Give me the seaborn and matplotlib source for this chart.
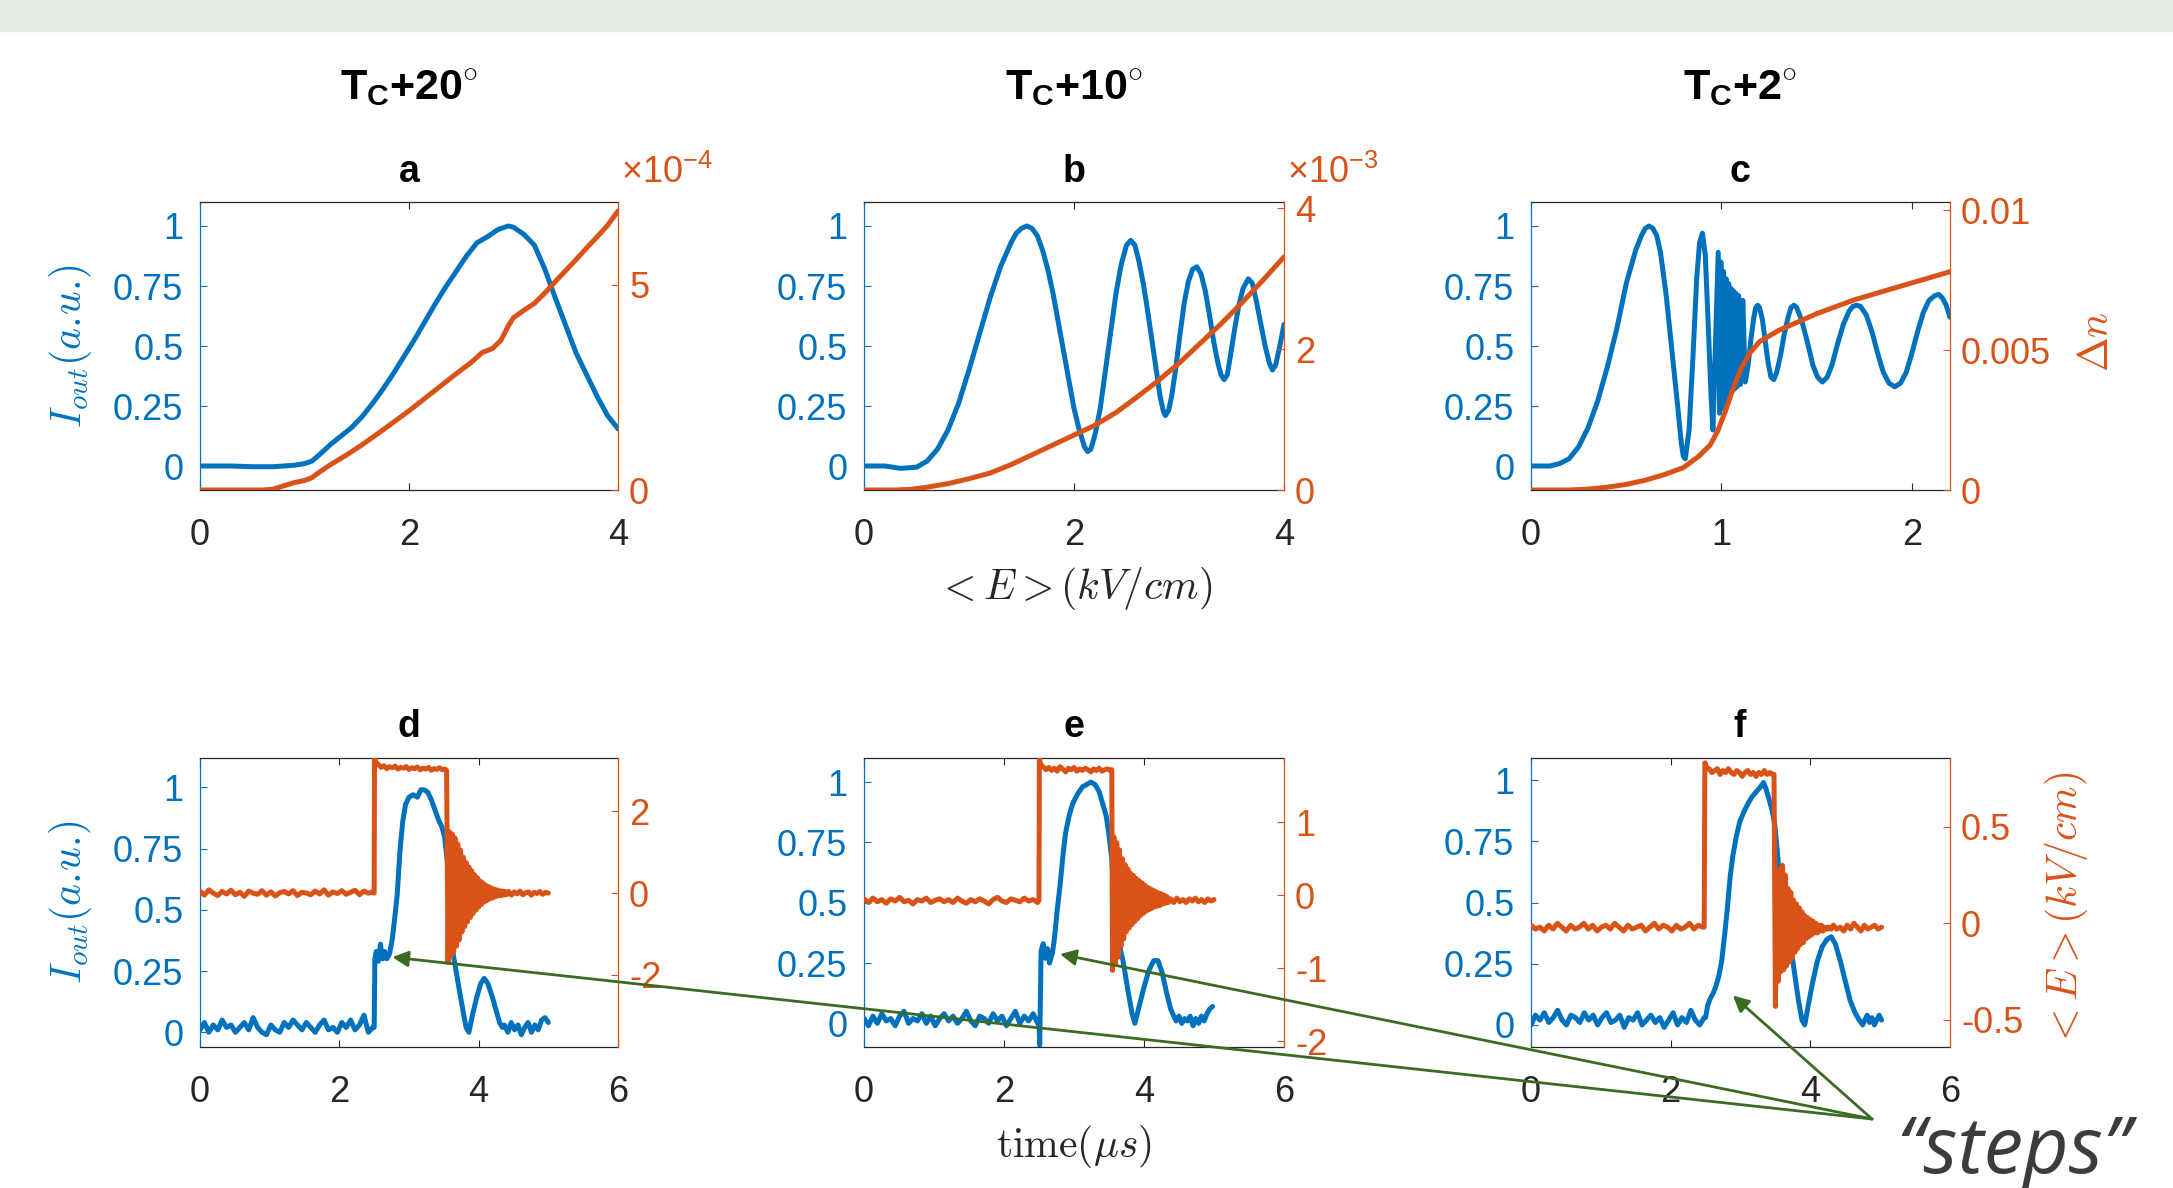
import numpy as np
import matplotlib
matplotlib.use('Agg')
import matplotlib.pyplot as plt
import seaborn as sns
from matplotlib.patches import Rectangle, ConnectionPatch

sns.set_style('ticks')
plt.rcParams['font.family'] = ['Liberation Sans', 'DejaVu Sans']
plt.rcParams['mathtext.fontset'] = 'custom'
plt.rcParams['mathtext.rm'] = 'Liberation Sans'
plt.rcParams['mathtext.it'] = 'Liberation Sans:italic'
plt.rcParams['mathtext.bf'] = 'Liberation Sans:bold'

BLUE = '#0072BD'
ORANGE = '#D95319'
DARK = '#262626'
GREEN = '#3b6b22'

# ---------------- data: top row (vs <E>, kV/cm) ----------------
a_E = [0, 0.3, 0.5, 0.7, 0.9, 1.0, 1.07, 1.15, 1.25, 1.35, 1.45, 1.55, 1.65, 1.75, 1.85, 1.95,
       2.05, 2.15, 2.25, 2.35, 2.45, 2.55, 2.65, 2.75, 2.85, 2.95, 3.0, 3.1, 3.2, 3.3, 3.4, 3.5,
       3.6, 3.7, 3.8, 3.9, 4.0]
a_I = [0.0, 0.0, -0.003, -0.003, 0.003, 0.01, 0.02, 0.05, 0.09, 0.125, 0.16, 0.205, 0.26, 0.32,
       0.385, 0.455, 0.525, 0.6, 0.675, 0.745, 0.81, 0.875, 0.93, 0.955, 0.985, 1.0, 0.995, 0.965,
       0.92, 0.82, 0.7, 0.585, 0.47, 0.38, 0.29, 0.21, 0.155]
a_dnE = [0, 0.6, 0.7, 0.8, 0.9, 1.0, 1.07, 1.15, 1.25, 1.4, 1.55, 1.7, 1.85, 2.0, 2.15, 2.3, 2.45,
         2.6, 2.7, 2.8, 2.88, 2.95, 3.0, 3.1, 3.2, 3.3, 3.4, 3.5, 3.6, 3.7, 3.8, 3.9, 4.0]
a_dn_e4 = [0, 0, 0.02, 0.1, 0.18, 0.23, 0.3, 0.45, 0.62, 0.85, 1.1, 1.37, 1.65, 1.93, 2.23, 2.53,
           2.83, 3.12, 3.35, 3.45, 3.65, 4.0, 4.2, 4.38, 4.55, 4.8, 5.08, 5.35, 5.62, 5.9, 6.17,
           6.45, 6.8]

b_E = [0, 0.2, 0.35, 0.5, 0.6, 0.7, 0.8, 0.9, 1.0, 1.1, 1.2, 1.3, 1.4, 1.45, 1.5, 1.55,
       1.6, 1.65, 1.7, 1.75, 1.8, 1.85, 1.9, 1.95, 2.0, 2.05, 2.1, 2.13, 2.16,
       2.2, 2.25, 2.3, 2.35, 2.4, 2.45, 2.5, 2.54, 2.58, 2.62,
       2.66, 2.7, 2.74, 2.78, 2.82, 2.85, 2.87, 2.9,
       2.93, 2.97, 3.01, 3.05, 3.09, 3.13, 3.17, 3.21,
       3.25, 3.29, 3.33, 3.37, 3.4, 3.43, 3.46,
       3.49, 3.53, 3.57, 3.61, 3.66, 3.7,
       3.74, 3.78, 3.82, 3.86, 3.89, 3.92, 3.96, 4.0]
b_I = [0.0, 0.0, -0.01, -0.005, 0.02, 0.07, 0.15, 0.26, 0.4, 0.55, 0.7, 0.83, 0.93, 0.97, 0.99, 1.0,
       0.99, 0.96, 0.9, 0.82, 0.72, 0.6, 0.48, 0.36, 0.24, 0.15, 0.08, 0.06, 0.07,
       0.13, 0.24, 0.4, 0.56, 0.72, 0.84, 0.92, 0.94, 0.92, 0.85,
       0.76, 0.65, 0.53, 0.41, 0.29, 0.23, 0.21, 0.23,
       0.29, 0.41, 0.55, 0.68, 0.77, 0.82, 0.83, 0.8,
       0.73, 0.63, 0.52, 0.43, 0.38, 0.36, 0.38,
       0.46, 0.57, 0.67, 0.74, 0.78, 0.76,
       0.68, 0.59, 0.5, 0.43, 0.40, 0.42, 0.5, 0.59]
b_dnE = [0, 0.3, 0.45, 0.6, 0.8, 1.0, 1.2, 1.4, 1.6, 1.8, 2.0, 2.2, 2.4, 2.6, 2.8, 3.0, 3.2, 3.4,
         3.6, 3.8, 4.0]
b_dn_e3 = [0, 0, 0.01, 0.04, 0.09, 0.16, 0.24, 0.36, 0.5, 0.64, 0.78, 0.92, 1.1, 1.32, 1.55, 1.8,
           2.08, 2.36, 2.66, 2.98, 3.31]

c_E = [0, 0.1, 0.15, 0.2, 0.25, 0.3, 0.35, 0.4, 0.45, 0.5, 0.55, 0.58, 0.6, 0.62, 0.64, 0.66,
       0.68, 0.71, 0.74, 0.77, 0.79, 0.8, 0.81, 0.83, 0.85, 0.87, 0.885, 0.9, 0.915, 0.93, 0.945,
       0.955,
       0.983, 0.99, 0.997, 1.004, 1.011, 1.018, 1.025, 1.031, 1.038, 1.044, 1.05, 1.056, 1.062,
       1.068, 1.075, 1.082, 1.09, 1.1, 1.112, 1.125,
       1.14, 1.155, 1.17, 1.18, 1.19, 1.2, 1.215, 1.23, 1.245, 1.26, 1.275, 1.29, 1.31, 1.33,
       1.35, 1.365, 1.38, 1.395, 1.42, 1.45, 1.48, 1.505, 1.53, 1.555, 1.58, 1.61, 1.64, 1.67,
       1.69, 1.71, 1.73, 1.76, 1.79, 1.82, 1.85, 1.88, 1.91, 1.94, 1.97, 2.0, 2.03, 2.06, 2.09,
       2.12, 2.14, 2.16, 2.18, 2.2]
c_I = [0.0, 0.0, 0.01, 0.03, 0.08, 0.16, 0.27, 0.41, 0.57, 0.76, 0.9, 0.96, 0.99, 1.0, 0.99, 0.96,
       0.89, 0.71, 0.48, 0.25, 0.09, 0.04, 0.03, 0.15, 0.45, 0.78, 0.93, 0.97, 0.88, 0.6, 0.3,
       0.15,
       0.89, 0.22, 0.85, 0.24, 0.81, 0.26, 0.78, 0.28, 0.76, 0.30, 0.74, 0.31, 0.73,
       0.32, 0.72, 0.33, 0.71, 0.34, 0.69, 0.35,
       0.42, 0.53, 0.62, 0.66, 0.67, 0.66, 0.61, 0.52, 0.43, 0.37, 0.36, 0.39, 0.46, 0.55,
       0.62, 0.66, 0.67, 0.66, 0.61, 0.52, 0.42, 0.37, 0.35, 0.37, 0.42, 0.51, 0.59, 0.645,
       0.665, 0.67, 0.665, 0.63, 0.56, 0.47, 0.39, 0.345, 0.33, 0.345, 0.39, 0.47, 0.56, 0.64,
       0.69, 0.71, 0.715, 0.7, 0.67, 0.62]
c_dnE = [0, 0.2, 0.3, 0.4, 0.5, 0.6, 0.7, 0.8, 0.88, 0.94, 0.98, 1.02, 1.06, 1.1, 1.15, 1.2, 1.3,
         1.4, 1.5, 1.6, 1.7, 1.8, 1.9, 2.0, 2.1, 2.2]
c_dn = [0, 0, 0.00003, 0.0001, 0.0002, 0.00035, 0.00055, 0.0008, 0.0012, 0.0016, 0.0021, 0.0028,
        0.0036, 0.0043, 0.0049, 0.0053, 0.0057, 0.006, 0.0063, 0.00655, 0.0068, 0.007, 0.0072,
        0.0074, 0.0076, 0.0078]

# ---------------- data: bottom row (vs time, us) ----------------
# panel d
d_I_base = [0.01, 0.04, 0.0, 0.03, 0.01, 0.05, 0.02, 0.03, 0.0, 0.02, 0.04, 0.01, 0.06, 0.02, 0.0,
            -0.01, 0.03, 0.01, 0.0, 0.04, 0.02, 0.05, 0.03, 0.01, 0.04, 0.02, 0.0, 0.03, 0.05, 0.01,
            0.02, 0.0, 0.04, 0.02, 0.05, 0.01, 0.03, 0.07, 0.0, 0.02]
d_I_shape_t = [2.5, 2.51, 2.53, 2.56, 2.59, 2.62, 2.65, 2.68, 2.72, 2.76, 2.8, 2.83, 2.87, 2.91,
               2.95, 3.0, 3.06, 3.12, 3.17, 3.22, 3.27, 3.32, 3.37, 3.42, 3.47, 3.51, 3.55, 3.58,
               3.61, 3.67, 3.73, 3.78, 3.82, 3.86, 3.91, 3.97, 4.03, 4.08, 4.13, 4.19, 4.25, 4.3, 4.34]
d_I_shape = [0.02, 0.3, 0.33, 0.29, 0.36, 0.3, 0.33, 0.3, 0.32, 0.38, 0.48, 0.56, 0.74, 0.86, 0.93,
             0.96, 0.97, 0.96, 0.99, 0.99, 0.98, 0.95, 0.91, 0.87, 0.84, 0.8, 0.7, 0.48, 0.36, 0.26,
             0.16, 0.08, 0.02, 0.0, 0.07, 0.14, 0.2, 0.22, 0.2, 0.15, 0.09, 0.04, 0.02]
d_I_tail = [0.03, 0.0, 0.04, 0.01, 0.03, -0.01, 0.02, 0.04, 0.0, 0.03, 0.01, 0.05, 0.06, 0.04]
d_E_base = [0.05, -0.05, 0.08, 0.0, -0.06, 0.04, -0.02, 0.07, -0.04, 0.02, -0.08, 0.05, 0.0, -0.03,
            0.06, -0.05, 0.03, -0.07, 0.01, 0.04, -0.02, 0.06, -0.06, 0.02, 0.0, -0.04, 0.05, -0.02,
            0.08, -0.05, 0.03, -0.01, 0.06, -0.03, 0.02, 0.07, -0.04, 0.05, 0.0, 0.03]
d_E_edge_t = [2.5, 2.505, 2.53]
d_E_edge = [0.0, 3.3, 3.2]
d_E_plat = [3.15, 3.08, 3.12, 3.05, 3.1, 3.07, 3.11, 3.04, 3.08, 3.06, 3.1, 3.03, 3.07, 3.05, 3.09,
            3.02, 3.06, 3.04, 3.08, 3.01, 3.05, 3.03, 3.07, 3.02, 3.04]
d_E_ring = [-1.7, 1.5, -1.55, 1.45, -1.45, 1.35, -1.3, 1.2, -1.15, 1.05, -0.95, 0.88, -0.82, 0.75,
            -0.7, 0.64, -0.6, 0.55, -0.5, 0.45, -0.42, 0.38, -0.34, 0.3, -0.28, 0.25, -0.22, 0.2,
            -0.18, 0.16, -0.14, 0.13, -0.12, 0.1, -0.09, 0.08, -0.07, 0.06, -0.06, 0.05, -0.05,
            0.04, -0.04]
d_E_tail = [0.04, -0.05, 0.03, -0.02, 0.05, -0.04, 0.01, 0.03, -0.05, 0.02, -0.01, 0.04, -0.03,
            0.02, 0.0]

# panel e
e_I_base = [0.02, -0.01, 0.03, 0.0, 0.04, 0.01, 0.02, -0.01, 0.03, 0.05, 0.0, 0.02, 0.01, 0.04, 0.0,
            0.03, -0.01, 0.02, 0.04, 0.01, 0.03, 0.0, 0.02, 0.05, 0.01, -0.01, 0.03, 0.02, 0.0, 0.04,
            0.01, 0.03, -0.01, 0.02, 0.05, 0.0, 0.03, 0.01, 0.04, 0.0]
e_I_shape_t = [2.5, 2.51, 2.52, 2.53, 2.56, 2.59, 2.62, 2.65, 2.69, 2.72, 2.76, 2.8, 2.84, 2.88,
               2.93, 2.98, 3.05, 3.12, 3.18, 3.24, 3.3, 3.36, 3.41, 3.46, 3.5, 3.54, 3.58, 3.62,
               3.66, 3.7, 3.78, 3.83, 3.87, 3.93, 4.0, 4.07, 4.14, 4.2, 4.26, 4.32, 4.38, 4.44]
e_I_shape = [0.01, -0.09, 0.1, 0.3, 0.33, 0.27, 0.31, 0.25, 0.29, 0.35, 0.47, 0.57, 0.69, 0.79, 0.86,
             0.91, 0.95, 0.98, 0.99, 1.0, 0.99, 0.96, 0.91, 0.86, 0.78, 0.68, 0.5, 0.38, 0.31, 0.26,
             0.12, 0.04, 0.0, 0.07, 0.15, 0.22, 0.26, 0.26, 0.21, 0.13, 0.06, 0.02]
e_I_tail = [0.01, 0.03, 0.0, 0.02, 0.01, 0.03, -0.01, 0.02, 0.0, 0.03, 0.01, 0.04, 0.06, 0.07]
e_E_base = [-0.05, -0.1, -0.04, -0.09, -0.06, -0.11, -0.05, -0.08, -0.03, -0.09, -0.07, -0.12, -0.06,
            -0.08, -0.04, -0.1, -0.07, -0.05, -0.09, -0.06, -0.1, -0.04, -0.08, -0.11, -0.06, -0.09,
            -0.05, -0.08, -0.12, -0.06, -0.03, -0.08, -0.1, -0.05, -0.07, -0.09, -0.04, -0.08,
            -0.06, -0.1]
e_E_edge_t = [2.5, 2.505, 2.53]
e_E_edge = [-0.07, 1.86, 1.78]
e_E_plat = [1.76, 1.72, 1.75, 1.71, 1.74, 1.7, 1.76, 1.73, 1.69, 1.74, 1.72, 1.75, 1.7, 1.73, 1.71,
            1.74, 1.72, 1.69, 1.73, 1.71, 1.74, 1.7, 1.72, 1.73, 1.71]
e_E_ring = [-1.03, 0.8, -0.95, 0.72, -0.85, 0.62, -0.7, 0.5, -0.6, 0.42, -0.5, 0.36, -0.45, 0.3,
            -0.4, 0.27, -0.36, 0.23, -0.32, 0.2, -0.28, 0.17, -0.25, 0.14, -0.22, 0.11, -0.2, 0.09,
            -0.18, 0.07, -0.16, 0.05, -0.15, 0.03, -0.14, 0.02, -0.12, 0.0, -0.11, -0.02, -0.1]
e_E_tail = [-0.05, -0.1, -0.04, -0.09, -0.06, -0.1, -0.05, -0.08, -0.04, -0.09, -0.06, -0.1, -0.05,
            -0.08, -0.06]

# panel f
f_I_base = [0.0, 0.04, 0.02, 0.05, 0.01, 0.03, 0.06, 0.02, 0.0, 0.04, 0.03, 0.01, 0.05, 0.02, 0.04,
            0.0, 0.03, 0.05, 0.01, 0.02, 0.04, -0.01, 0.03, 0.02, 0.05, 0.0, 0.02, 0.04, 0.01, 0.03,
            -0.01, 0.02, 0.05, 0.0, 0.03, 0.01, 0.06, 0.02, 0.0, 0.03]
f_I_shape_t = [2.5, 2.53, 2.57, 2.61, 2.65, 2.69, 2.73, 2.77, 2.81, 2.85, 2.89, 2.94, 2.99, 3.04,
               3.1, 3.16, 3.22, 3.28, 3.33, 3.37, 3.41, 3.45, 3.49, 3.53, 3.58, 3.63, 3.68, 3.73,
               3.78, 3.83, 3.88, 3.92, 3.97, 4.03, 4.1, 4.17, 4.24, 4.3, 4.36, 4.43, 4.5, 4.57,
               4.64, 4.7, 4.75]
f_I_shape = [0.03, 0.08, 0.11, 0.13, 0.16, 0.2, 0.26, 0.36, 0.47, 0.6, 0.69, 0.77, 0.83, 0.865, 0.9,
             0.93, 0.95, 0.97, 0.99, 0.96, 0.92, 0.88, 0.82, 0.7, 0.52, 0.4, 0.34, 0.3, 0.2, 0.1,
             0.02, 0.0, 0.08, 0.17, 0.26, 0.32, 0.35, 0.36, 0.33, 0.26, 0.18, 0.1, 0.05, 0.02, 0.0]
f_I_tail = [0.02, 0.04, 0.01, 0.03, 0.0, 0.02, 0.04, 0.02]
f_E_base = [-0.01, -0.03, -0.02, -0.04, -0.01, -0.03, 0.0, -0.02, -0.04, -0.01, -0.03, -0.02, 0.0,
            -0.03, -0.01, -0.04, -0.02, -0.01, -0.03, 0.0, -0.02, -0.04, -0.01, -0.03, -0.02,
            -0.01, -0.04, -0.02, 0.0, -0.03, -0.01, -0.02, -0.04, -0.01, -0.03, -0.02, 0.0, -0.03,
            -0.01, -0.02]
f_E_edge_t = [2.48, 2.49, 2.52]
f_E_edge = [-0.02, 0.83, 0.8]
f_E_plat = [0.8, 0.78, 0.79, 0.8, 0.77, 0.79, 0.78, 0.8, 0.78, 0.77, 0.79, 0.78, 0.76, 0.78, 0.79,
            0.77, 0.78, 0.76, 0.78, 0.77, 0.79, 0.77, 0.78, 0.77]
f_E_ring = [-0.43, 0.1, -0.3, 0.28, -0.25, 0.3, -0.24, 0.25, -0.22, 0.18, -0.2, 0.16, -0.18, 0.12,
            -0.15, 0.1, -0.13, 0.08, -0.11, 0.06, -0.1, 0.04, -0.08, 0.03, -0.07, 0.02, -0.06, 0.01,
            -0.05, 0.0, -0.05, -0.01, -0.04, -0.01, -0.04, -0.02, -0.03, -0.02, -0.03, -0.02, -0.03]
f_E_tail = [-0.01, -0.03, -0.02, -0.04, -0.01, -0.03, 0.0, -0.02, -0.04, -0.01, -0.03, -0.02, -0.01,
            -0.03, -0.02]

# arrow targets ("steps"), in each panel's data coordinates
step_d = (2.76, 0.307)
step_e = (2.80, 0.287)
step_f = (2.89, 0.12)


def seg(t0, t1, vals):
    return list(np.linspace(t0, t1, len(vals))), list(vals)


def build(pieces):
    xs, ys = [], []
    for pxs, pys in pieces:
        xs += list(pxs)
        ys += list(pys)
    return np.array(xs, float), np.array(ys, float)


d_It, d_I = build([seg(0, 2.48, d_I_base), (d_I_shape_t, d_I_shape), seg(4.37, 5.0, d_I_tail)])
d_Et, d_E = build([seg(0, 2.48, d_E_base), (d_E_edge_t, d_E_edge), seg(2.56, 3.52, d_E_plat),
                   ([3.54], [3.0]), seg(3.56, 4.40, d_E_ring), seg(4.43, 5.0, d_E_tail)])
e_It, e_I = build([seg(0, 2.48, e_I_base), (e_I_shape_t, e_I_shape), seg(4.46, 4.98, e_I_tail)])
e_Et, e_E = build([seg(0, 2.48, e_E_base), (e_E_edge_t, e_E_edge), seg(2.56, 3.52, e_E_plat),
                   ([3.54], [1.72]), seg(3.55, 4.35, e_E_ring), seg(4.38, 5.0, e_E_tail)])
f_It, f_I = build([seg(0, 2.48, f_I_base), (f_I_shape_t, f_I_shape), seg(4.78, 5.02, f_I_tail)])
f_Et, f_E = build([seg(0, 2.46, f_E_base), (f_E_edge_t, f_E_edge), seg(2.55, 3.46, f_E_plat),
                   ([3.48], [0.77]), seg(3.5, 4.3, f_E_ring), seg(4.33, 5.02, f_E_tail)])

# ---------------- figure ----------------
W, H = 2173, 1188
fig = plt.figure(figsize=(W / 100, H / 100), dpi=100)
fig.patch.set_facecolor('white')
fig.add_artist(Rectangle((0, 1 - 31 / H), 1, 31 / H, transform=fig.transFigure,
                         color='#e4ebe3', zorder=0))

TICK = 26


def px(x0, y0, x1, y1):
    return [x0 / W, 1 - y1 / H, (x1 - x0) / W, (y1 - y0) / H]


def panel(pos, bx, by, ox, oy, xlim, xticks, ylim_l, ylim_r, rticks, rlabels, lw):
    ax = fig.add_axes(pos)
    sns.lineplot(x=np.asarray(bx, float), y=np.asarray(by, float), ax=ax, color=BLUE,
                 linewidth=lw, estimator=None, sort=False, errorbar=None)
    ax2 = ax.twinx()
    sns.lineplot(x=np.asarray(ox, float), y=np.asarray(oy, float), ax=ax2, color=ORANGE,
                 linewidth=lw, estimator=None, sort=False, errorbar=None)
    ax.set_xlim(*xlim)
    ax.set_ylim(*ylim_l)
    ax2.set_ylim(*ylim_r)
    ax.set_xticks(xticks)
    ax.set_xticklabels([f'{t:g}' for t in xticks])
    ax.set_yticks([0, 0.25, 0.5, 0.75, 1])
    ax.set_yticklabels(['0', '0.25', '0.5', '0.75', '1'])
    ax2.set_yticks(rticks)
    ax2.set_yticklabels(rlabels)
    ax.set_xlabel('')
    ax.set_ylabel('')
    ax2.set_ylabel('')
    ax.tick_params(axis='x', direction='in', top=True, length=5, width=0.8, color=DARK,
                   labelcolor=DARK, labelsize=TICK, pad=20)
    ax.tick_params(axis='y', direction='in', length=5, width=0.8, colors=BLUE,
                   labelsize=TICK, pad=12)
    ax2.tick_params(axis='y', direction='in', length=5, width=0.8, colors=ORANGE,
                    labelsize=TICK, pad=8)
    for s in ['top', 'bottom']:
        ax.spines[s].set_color(DARK)
        ax.spines[s].set_linewidth(0.9)
        ax2.spines[s].set_visible(False)
    ax.spines['left'].set_color(BLUE)
    ax.spines['left'].set_linewidth(0.9)
    ax.spines['right'].set_visible(False)
    ax2.spines['left'].set_visible(False)
    ax2.spines['right'].set_color(ORANGE)
    ax2.spines['right'].set_linewidth(0.9)
    return ax, ax2


ax_a, _ = panel(px(200, 202, 618, 490), a_E, a_I, a_dnE, a_dn_e4, (0, 4), [0, 2, 4],
                (-0.1, 1.1), (0, 7.02), [0, 5], ['0', '5'], 3.6)
ax_b, _ = panel(px(864, 202, 1284, 490), b_E, b_I, b_dnE, b_dn_e3, (0, 4), [0, 2, 4],
                (-0.1, 1.1), (0, 4.09), [0, 2, 4], ['0', '2', '4'], 3.6)
ax_c, _ = panel(px(1531, 202, 1950, 490), c_E, c_I, c_dnE, c_dn, (0, 2.2), [0, 1, 2],
                (-0.1, 1.1), (0, 0.01029), [0, 0.005, 0.01], ['0', '0.005', '0.01'], 3.6)
ax_d, _ = panel(px(200, 758, 618, 1047), d_It, d_I, d_Et, d_E, (0, 6), [0, 2, 4, 6],
                (-0.06, 1.12), (-3.77, 3.31), [-2, 0, 2], ['-2', '0', '2'], 3.6)
ax_e, _ = panel(px(864, 758, 1284, 1047), e_It, e_I, e_Et, e_E, (0, 6), [0, 2, 4, 6],
                (-0.098, 1.1), (-2.08, 1.88), [-2, -1, 0, 1], ['-2', '-1', '0', '1'], 3.6)
ax_f, _ = panel(px(1531, 758, 1950, 1047), f_It, f_I, f_Et, f_E, (0, 6), [0, 2, 4, 6],
                (-0.09, 1.09), (-0.64, 0.855), [-0.5, 0, 0.5], ['-0.5', '0', '0.5'], 3.6)


# ---------------- texts ----------------
def fx(x):
    return x / W


def fy(y):
    return 1 - y / H


for xc, t in [(409, '20'), (1074, '10'), (1740, '2')]:
    fig.text(fx(xc), fy(99), r'T$_{\mathbf{C}}$+' + t + r'$^{\circ}$', ha='center',
             va='baseline', fontsize=31, fontweight='bold', color='black')
for xc, yb, t in [(409, 182, 'a'), (1074, 182, 'b'), (1740, 182, 'c'),
                  (409, 737, 'd'), (1074, 737, 'e'), (1740, 737, 'f')]:
    fig.text(fx(xc), fy(yb), t, ha='center', va='baseline', fontsize=27,
             fontweight='bold', color='black')

fig.text(fx(621), fy(183), '×10$^{\\mathregular{-4}}$', ha='left', va='baseline',
         fontsize=TICK, color=ORANGE)
fig.text(fx(1287), fy(183), '×10$^{\\mathregular{-3}}$', ha='left', va='baseline',
         fontsize=TICK, color=ORANGE)

LAB = 30
fig.text(fx(1074), fy(589), r'$<E>(kV/cm)$', ha='center', va='center', fontsize=LAB,
         color=DARK, math_fontfamily='cm')
fig.text(fx(1074), fy(1146), r'$\mathrm{time}(\mu s)$', ha='center', va='center', fontsize=LAB,
         color=DARK, math_fontfamily='cm')
for yc in (346, 902):
    fig.text(fx(71), fy(yc), r'$I_{out}(a.\!u.\!)$', ha='center', va='center', rotation=90,
             fontsize=LAB, color=BLUE, math_fontfamily='cm')
fig.text(fx(2097), fy(342), r'$\Delta n$', ha='center', va='center', rotation=90,
         fontsize=LAB, color=ORANGE, math_fontfamily='cm')
fig.text(fx(2066), fy(910), r'$<E>(kV/cm)$', ha='center', va='center', rotation=90,
         fontsize=LAB, color=ORANGE, math_fontfamily='cm')

# "steps" annotation
src = (fx(1872), fy(1119))
for axx, tgt in [(ax_d, step_d), (ax_e, step_e), (ax_f, step_f)]:
    con = ConnectionPatch(xyA=src, coordsA='figure fraction', xyB=tgt, coordsB=axx.transData,
                          arrowstyle='-|>', mutation_scale=24, linewidth=2.0, color=GREEN,
                          shrinkA=0, shrinkB=0)
    fig.add_artist(con)
fig.text(fx(1896), fy(1173), '\u201csteps\u201d', ha='left', va='baseline', fontsize=57,
         fontstyle='italic', family=['Open Sans', 'DejaVu Sans'], color='#3c3c3c')

fig.savefig('out.png', dpi=100)
